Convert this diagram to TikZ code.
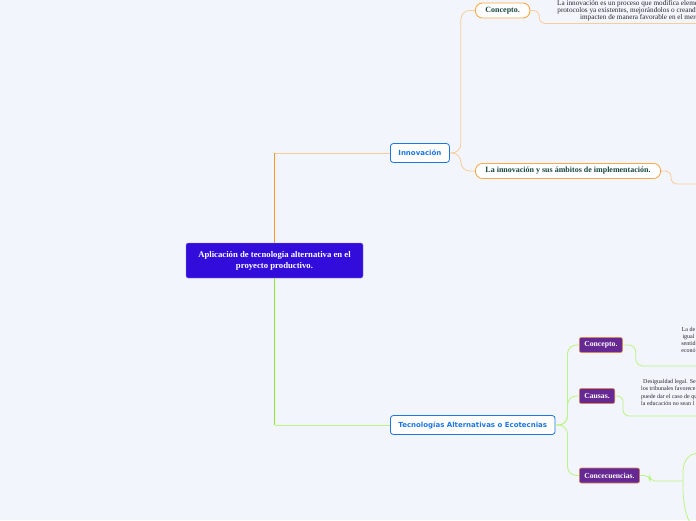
\documentclass[tikz,border=0pt]{standalone}
\usepackage{fontspec}
\setmainfont{Liberation Serif}
\newfontfamily\topicfont{DejaVu Sans}
\usetikzlibrary{positioning}

\definecolor{bgcol}{RGB}{243,245,253}
\definecolor{rootfill}{RGB}{49,12,218}
\definecolor{rootline}{RGB}{150,140,240}
\definecolor{topicblue}{RGB}{28,118,228}
\definecolor{subline}{RGB}{249,170,70}
\definecolor{subtext}{RGB}{22,72,62}
\definecolor{leaffill}{RGB}{102,40,146}
\definecolor{leafline}{RGB}{214,134,92}
\definecolor{notetext}{RGB}{40,40,40}
\definecolor{orangetrunk}{RGB}{248,150,40}
\definecolor{orangeline}{RGB}{250,204,150}
\definecolor{greentrunk}{RGB}{140,236,50}
\definecolor{greenline}{RGB}{186,244,130}

\begin{document}
\begin{tikzpicture}[x=1pt, y=-1pt,
  root/.style={rectangle, draw=rootline, fill=rootfill, rounded corners=2pt, minimum width=177pt, minimum height=35pt, inner sep=0pt, align=center, text=white, font=\bfseries\fontsize{8.7}{11}\selectfont},
  topic/.style={rectangle, draw=topicblue, fill=white, rounded corners=3pt, line width=0.8pt, minimum height=19pt, inner xsep=8pt, inner ysep=0pt, text=topicblue, font=\topicfont\bfseries\fontsize{7}{8}\selectfont},
  sub/.style={rectangle, draw=subline, fill=white, rounded corners=7pt, line width=0.9pt, minimum height=15pt, inner xsep=10pt, inner ysep=0pt, text=subtext, font=\bfseries\fontsize{8}{9}\selectfont},
  leaf/.style={rectangle, draw=leafline, fill=leaffill, rounded corners=2pt, line width=0.6pt, minimum height=15pt, inner xsep=5pt, inner ysep=0pt, text=white, font=\bfseries\fontsize{7.7}{9}\selectfont},
  note/.style={inner sep=0pt, align=center, text=notetext, font=\fontsize{7.2}{7}\selectfont},
  orangeln/.style={draw=orangeline, line width=0.8pt, rounded corners=9pt},
  greenln/.style={draw=greenline, line width=0.8pt, rounded corners=9pt}
  ]
  \path[use as bounding box, fill=bgcol] (0,0) rectangle (696,520);
  \clip (0,0) rectangle (696,520);

  \node[root] (app) at (274.5,260.5) {Aplicación de tecnología alternativa en el\\proyecto productivo.};

  \node[topic, anchor=west] (innov) at (390,153) {Innovación};
  \node[sub, anchor=west] (concepto) at (475,10.5) {Concepto.};
  \node[sub, anchor=west] (ambitos) at (475,171) {La innovación y sus ámbitos de implementación.};
  \node[note, anchor=north west] (innovnote) at (557,0.5) {La innovación es un proceso que modifica elementos, ideas o\\protocolos ya existentes, mejorándolos o creando nuevos que\\impacten de manera favorable en el mercado.};
  \coordinate (innovend) at (700,23.5);
  \coordinate (ambitosend) at (700,184);

  \node[topic, anchor=west] (tecno) at (390,425) {Tecnologías Alternativas o Ecotecnias};
  \node[leaf, anchor=west] (concepto2) at (579,345) {Concepto.};
  \node[leaf, anchor=west] (causas) at (579,396) {Causas.};
  \node[leaf, anchor=west] (consec) at (579,475.5) {Concecuencias.};
  \node[note, font=\fontsize{6}{7}\selectfont] (conceptonote) at (688.5,340) {La de\\igual\\sentid\\econó};
  \node[note, anchor=west, align=left, font=\fontsize{6}{7.3}\selectfont] (causasnote) at (641,392.5) {\hspace*{2pt}Desigualdad legal. Se\\los tribunales favorece\\puede dar el caso de qu\\la educación no sean l};
  \coordinate (conceptoend) at (700,366);
  \coordinate (causasend) at (700,416);
  \coordinate (split) at (683,481);
  \coordinate (splitup) at (700,453);
  \coordinate (splitdown) at (692,525);

  \draw[orangetrunk, line width=1.6pt] (app.north) -- (app.north |- innov.west);
  \draw[orangeline, line width=1pt] (app.north |- innov.west) -- (innov.west);
  \draw[orangeln] (innov.east) -- ++(11,0) |- (concepto.west);
  \draw[orangeln] (innov.east) -- ++(11,0) |- (ambitos.west);
  \draw[orangeln, rounded corners=6pt] (concepto.east) -- ++(9,0) |- (innovend);
  \draw[orangeln, rounded corners=6pt] (ambitos.east) -- ++(10,0) |- (ambitosend);

  \draw[greentrunk, line width=1.6pt] (app.south) -- (app.south |- tecno.west);
  \draw[greenline, line width=1pt] (app.south |- tecno.west) -- (tecno.west);
  \draw[greenln] (tecno.east) -- ++(12,0) |- (concepto2.west);
  \draw[greenln] (tecno.east) -- ++(12,0) |- (causas.west);
  \draw[greenln] (tecno.east) -- ++(12,0) |- (consec.west);
  \draw[greenln, rounded corners=7pt] (concepto2.east) -- ++(13,0) |- (conceptoend);
  \draw[greenln, rounded corners=6pt] (causas.east) -- ++(8,0) |- (causasend);
  \draw[greenln, rounded corners=5pt] (consec.east) -- ++(10,0) |- (split);
  \draw[greenln] (splitup) .. controls (685,453) and (683,466) .. (split)
    .. controls (683,498) and (685,518) .. (splitdown);
\end{tikzpicture}
\end{document}
